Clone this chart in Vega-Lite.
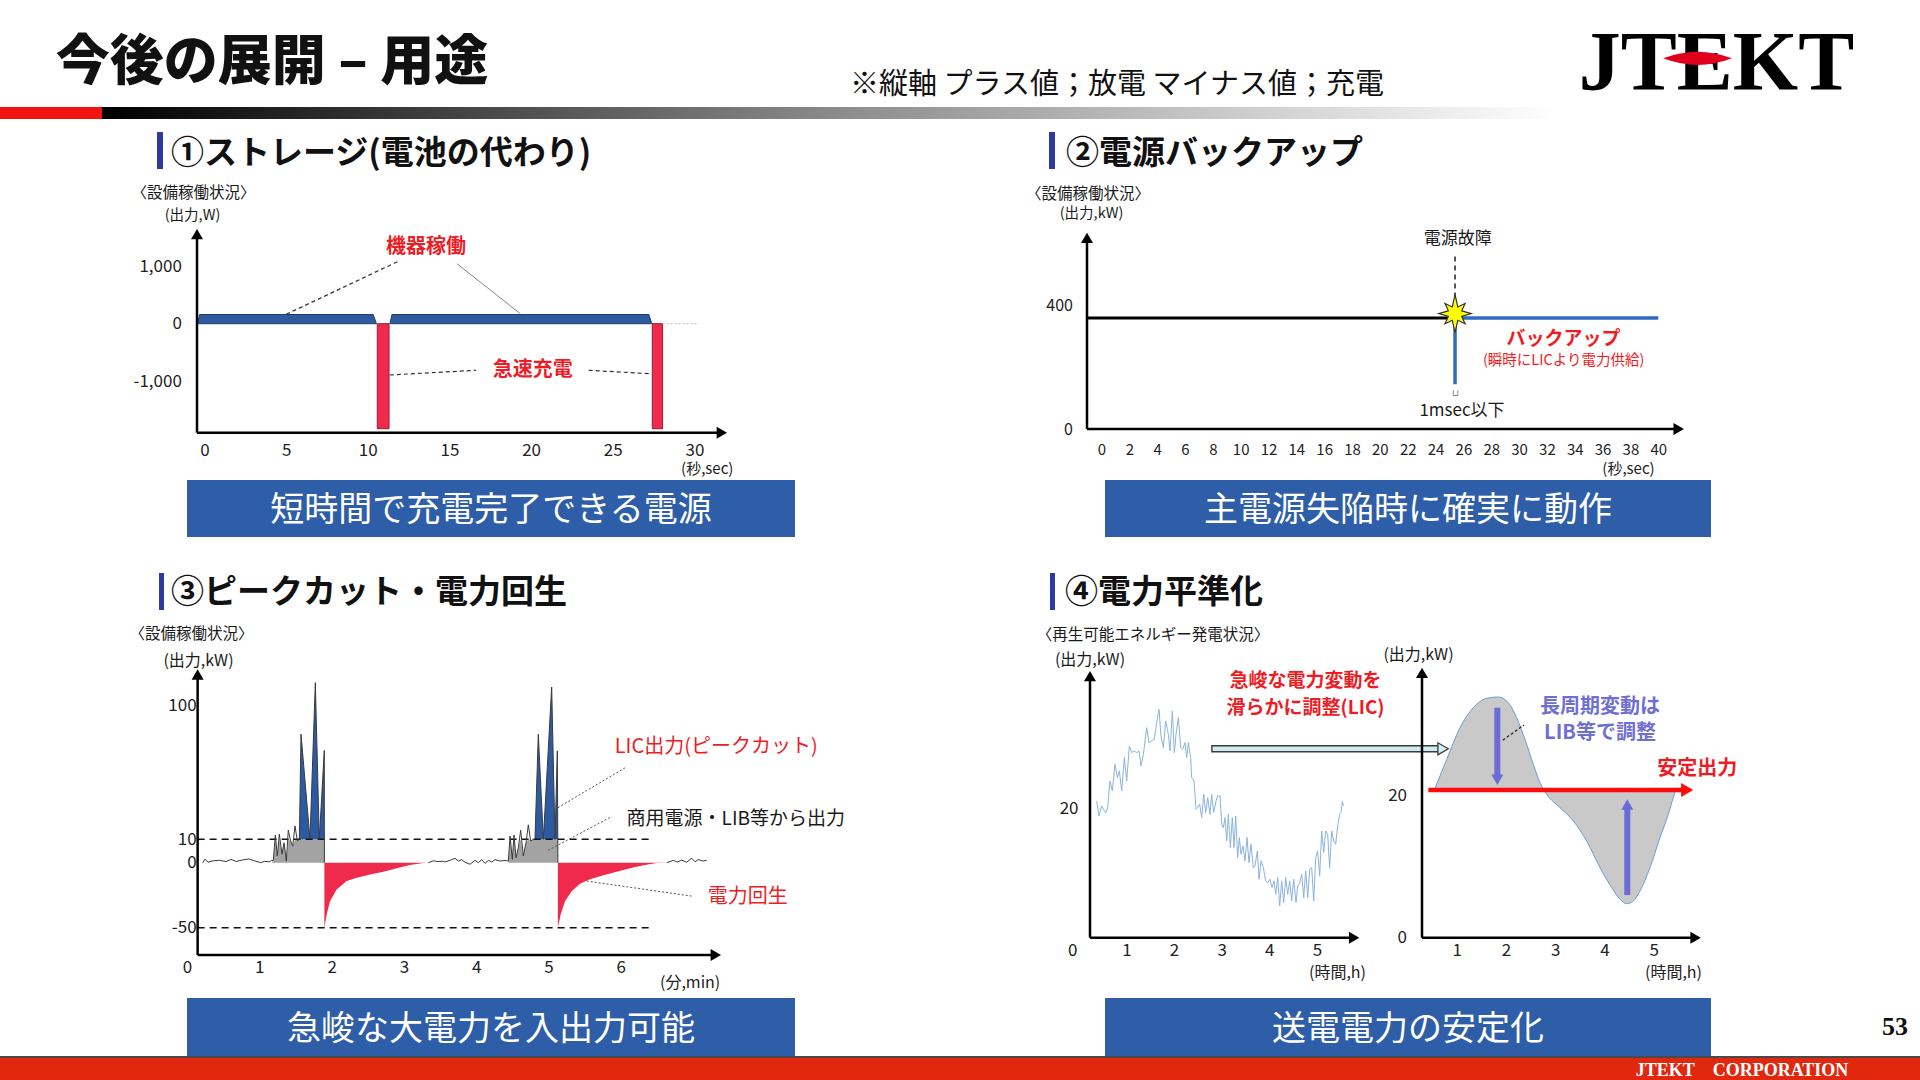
{
"$schema": "https://vega.github.io/schema/vega-lite/v6.json",
"padding": 0,
"background": "white",
"spacing": 0,
"config": {
  "font": "Noto Sans CJK JP",
  "view": {"stroke": null},
  "axis": {"grid": false, "domain": false, "ticks": false, "labelColor": "#222", "labelFont": "Noto Sans CJK JP", "titleFont": "Noto Sans CJK JP", "titleColor": "#222", "titleFontWeight": "normal", "labelFlush": false, "labelOverlap": false},
  "text": {"color": "#1a1a1a", "fontSize": 1}
},
"datasets": {
  "c1band": [{"seg":"a","x":-0.42,"y":0},{"seg":"a","x":-0.3,"y":160},{"seg":"a","x":10.33,"y":160},{"seg":"a","x":10.53,"y":0},{"seg":"b","x":11.35,"y":0},{"seg":"b","x":11.48,"y":160},{"seg":"b","x":27.21,"y":160},{"seg":"b","x":27.39,"y":0}],
  "c1bars": [{"x":10.58,"x2":11.30,"y":-1826},{"x":27.42,"x2":28.05,"y":-1826}],
  "c1dotted": [{"x":28.05,"y":0,"x2":30.27,"y2":0}],
  "c1dashed": [{"x":11.81,"y":1078,"x2":5.0,"y2":163},{"x":11.35,"y":-892,"x2":16.62,"y2":-810},{"x":23.53,"y":-810,"x2":27.29,"y2":-870}],
  "c1thin": [{"x":15.46,"y":1043,"x2":19.34,"y2":174}],
  "c1axes": [{"x":-0.46,"y":-1896,"x2":31.68,"y2":-1896},{"x":-0.46,"y":-1896,"x2":-0.46,"y2":1557}],
  "c1arrowR": [{"x":31.68,"y":-1896}],
  "c1arrowU": [{"x":-0.46,"y":1557}],
  "c1labels": [{"x":13.56,"y":1330,"label":"機器稼働"},{"x":20.1,"y":-800,"label":"急速充電"}],
  "c2black": [{"x":-1.04,"y":360,"x2":25.0,"y2":360}],
  "c2blue": [{"x":25.4,"y":145,"x2":25.4,"y2":360},{"x":25.4,"y":360,"x2":40.0,"y2":360}],
  "c2dash": [{"x":25.4,"y":426,"x2":25.4,"y2":571}],
  "c2star": [{"x":25.4,"y":374}],
  "c2axes": [{"x":-1.04,"y":0,"x2":41.47,"y2":0},{"x":-1.04,"y":0,"x2":-1.04,"y2":619.5}],
  "c2arrowR": [{"x":41.47,"y":0}],
  "c2arrowU": [{"x":-1.04,"y":619.5}],
  "c2textBlack": [{"x":25.6,"y":617,"label":"電源故障"},{"x":25.9,"y":58,"label":"1msec以下"}],
  "c2textRed": [{"x":33.2,"y":291,"label":"バックアップ"}],
  "c2textRedSmall": [{"x":33.2,"y":220,"label":"(瞬時にLICより電力供給)"}],
  "c2mark": [{"x":25.4,"y":118,"label":"⊔"}],
  "c3line": [
    {"seg":"a","x":0.217,"y":0},{"seg":"a","x":0.25,"y":1.5},{"seg":"a","x":0.29,"y":0.2},{"seg":"a","x":0.36,"y":0.8},{"seg":"a","x":0.45,"y":1.0},{"seg":"a","x":0.54,"y":0.5},{"seg":"a","x":0.61,"y":1.4},{"seg":"a","x":0.68,"y":0.5},{"seg":"a","x":0.77,"y":1.2},{"seg":"a","x":0.86,"y":1.6},{"seg":"a","x":0.93,"y":0.8},{"seg":"a","x":1.02,"y":0},{"seg":"a","x":1.07,"y":0.6},{"seg":"a","x":1.14,"y":0.4},{"seg":"a","x":1.171,"y":1.0},{"seg":"a","x":1.194,"y":1.0},{"seg":"a","x":1.222,"y":12.9},{"seg":"a","x":1.249,"y":2.9},{"seg":"a","x":1.277,"y":13.4},{"seg":"a","x":1.314,"y":3.6},{"seg":"a","x":1.342,"y":8.5},{"seg":"a","x":1.374,"y":0.7},{"seg":"a","x":1.401,"y":16.1},{"seg":"a","x":1.434,"y":9.3},{"seg":"a","x":1.462,"y":7.1},{"seg":"a","x":1.494,"y":19.0},{"seg":"a","x":1.526,"y":9.3},{"seg":"a","x":1.554,"y":10},{"seg":"a","x":1.577,"y":80.4},{"seg":"a","x":1.701,"y":10},{"seg":"a","x":1.775,"y":115},{"seg":"a","x":1.83,"y":10},{"seg":"a","x":1.899,"y":69.6},{"seg":"a","x":1.9,"y":0},
    {"seg":"b","x":3.338,"y":0},{"seg":"b","x":3.407,"y":0.8},{"seg":"b","x":3.47,"y":0.5},{"seg":"b","x":3.545,"y":0.6},{"seg":"b","x":3.568,"y":0.3},{"seg":"b","x":3.637,"y":1.0},{"seg":"b","x":3.707,"y":1.9},{"seg":"b","x":3.753,"y":0.7},{"seg":"b","x":3.799,"y":1.3},{"seg":"b","x":3.845,"y":0.2},{"seg":"b","x":3.914,"y":-1.2},{"seg":"b","x":3.983,"y":1.0},{"seg":"b","x":4.03,"y":0},{"seg":"b","x":4.076,"y":1.3},{"seg":"b","x":4.122,"y":-0.5},{"seg":"b","x":4.168,"y":1.0},{"seg":"b","x":4.214,"y":0.3},{"seg":"b","x":4.26,"y":1.3},{"seg":"b","x":4.329,"y":0.7},{"seg":"b","x":4.399,"y":1.0},{"seg":"b","x":4.445,"y":0.7},{"seg":"b","x":4.468,"y":12.2},{"seg":"b","x":4.5,"y":1.4},{"seg":"b","x":4.523,"y":12.9},{"seg":"b","x":4.551,"y":2.1},{"seg":"b","x":4.583,"y":6.4},{"seg":"b","x":4.615,"y":16.1},{"seg":"b","x":4.652,"y":2.9},{"seg":"b","x":4.689,"y":8.5},{"seg":"b","x":4.721,"y":19.7},{"seg":"b","x":4.753,"y":9.3},{"seg":"b","x":4.79,"y":10},{"seg":"b","x":4.813,"y":10},{"seg":"b","x":4.859,"y":80.4},{"seg":"b","x":4.929,"y":10},{"seg":"b","x":5.044,"y":112},{"seg":"b","x":5.09,"y":10},{"seg":"b","x":5.122,"y":69.2},{"seg":"b","x":5.13,"y":0},
    {"seg":"c","x":6.635,"y":0},{"seg":"c","x":6.727,"y":1.0},{"seg":"c","x":6.782,"y":0.3},{"seg":"c","x":6.842,"y":1.1},{"seg":"c","x":6.911,"y":0.2},{"seg":"c","x":6.981,"y":1.9},{"seg":"c","x":7.027,"y":0.4},{"seg":"c","x":7.073,"y":1.3},{"seg":"c","x":7.142,"y":0.7},{"seg":"c","x":7.188,"y":1.0}
  ],
  "c3gray": [
    {"seg":"g1","x":1.171,"y":0},{"seg":"g1","x":1.194,"y":1.0},{"seg":"g1","x":1.222,"y":10},{"seg":"g1","x":1.249,"y":2.9},{"seg":"g1","x":1.277,"y":10},{"seg":"g1","x":1.314,"y":3.6},{"seg":"g1","x":1.342,"y":8.5},{"seg":"g1","x":1.374,"y":0.7},{"seg":"g1","x":1.401,"y":10},{"seg":"g1","x":1.434,"y":9.3},{"seg":"g1","x":1.462,"y":7.1},{"seg":"g1","x":1.494,"y":10},{"seg":"g1","x":1.526,"y":9.3},{"seg":"g1","x":1.554,"y":10},{"seg":"g1","x":1.9,"y":10},
    {"seg":"g2","x":4.445,"y":0.7},{"seg":"g2","x":4.468,"y":10},{"seg":"g2","x":4.5,"y":1.4},{"seg":"g2","x":4.523,"y":10},{"seg":"g2","x":4.551,"y":2.1},{"seg":"g2","x":4.583,"y":6.4},{"seg":"g2","x":4.615,"y":10},{"seg":"g2","x":4.652,"y":2.9},{"seg":"g2","x":4.689,"y":8.5},{"seg":"g2","x":4.721,"y":10},{"seg":"g2","x":4.753,"y":9.3},{"seg":"g2","x":4.79,"y":10},{"seg":"g2","x":5.13,"y":10}
  ],
  "c3blue": [
    {"seg":"b1","x":1.554,"y":10},{"seg":"b1","x":1.577,"y":80.4},{"seg":"b1","x":1.701,"y":10},{"seg":"b1","x":1.775,"y":115},{"seg":"b1","x":1.83,"y":10},{"seg":"b1","x":1.899,"y":69.6},{"seg":"b1","x":1.9,"y":10},
    {"seg":"b2","x":4.813,"y":10},{"seg":"b2","x":4.859,"y":80.4},{"seg":"b2","x":4.929,"y":10},{"seg":"b2","x":5.044,"y":112},{"seg":"b2","x":5.09,"y":10},{"seg":"b2","x":5.122,"y":69.2},{"seg":"b2","x":5.13,"y":10}
  ],
  "c3red": [
    {"seg":"r1","x":1.9,"y":-50},{"seg":"r1","x":1.932,"y":-39.9},{"seg":"r1","x":1.978,"y":-29.6},{"seg":"r1","x":2.07,"y":-20.6},{"seg":"r1","x":2.209,"y":-14.1},{"seg":"r1","x":2.347,"y":-11.6},{"seg":"r1","x":2.531,"y":-9.0},{"seg":"r1","x":2.716,"y":-6.9},{"seg":"r1","x":2.9,"y":-4.3},{"seg":"r1","x":3.084,"y":-1.8},{"seg":"r1","x":3.268,"y":-0.2},{"seg":"r1","x":3.338,"y":0},
    {"seg":"r2","x":5.13,"y":-50},{"seg":"r2","x":5.168,"y":-39.9},{"seg":"r2","x":5.228,"y":-29.6},{"seg":"r2","x":5.32,"y":-21.9},{"seg":"r2","x":5.436,"y":-16.2},{"seg":"r2","x":5.574,"y":-12.8},{"seg":"r2","x":5.759,"y":-9.7},{"seg":"r2","x":5.943,"y":-6.9},{"seg":"r2","x":6.128,"y":-4.3},{"seg":"r2","x":6.312,"y":-2.0},{"seg":"r2","x":6.497,"y":-0.2},{"seg":"r2","x":6.635,"y":0}
  ],
  "c3dash": [{"x":0.147,"y":10,"x2":6.45,"y2":10},{"x":0.147,"y":-50,"x2":6.45,"y2":-50}],
  "c3axes": [{"x":0.147,"y":-71.1,"x2":7.314,"y2":-71.1},{"x":0.147,"y":-71.1,"x2":0.147,"y2":120.4}],
  "c3arrowR": [{"x":7.314,"y":-71.1}],
  "c3arrowU": [{"x":0.147,"y":120.4}],
  "c3dotted": [{"x":6.058,"y":57.9,"x2":5.02,"y2":28},{"x":5.85,"y":24.6,"x2":4.975,"y2":5.0},{"x":6.98,"y":-25.7,"x2":5.53,"y2":-14.1}],
  "c3textRed": [{"x":7.32,"y":71.9,"label":"LIC出力(ピークカット)"},{"x":7.755,"y":-26.5,"label":"電力回生"}],
  "c3textBlack": [{"x":7.59,"y":23.5,"label":"商用電源・LIB等から出力"}],
  "c3unit": [{"x":0.159,"y":129.5,"label":"(出力,kW)"}],
  "c4aline": [
    {"x":0.377,"y":21.13},{"x":0.426,"y":18.81},{"x":0.482,"y":20.36},{"x":0.517,"y":19.85},{"x":0.566,"y":19.33},{"x":0.608,"y":20.10},{"x":0.657,"y":24.22},{"x":0.706,"y":22.68},{"x":0.762,"y":26.80},{"x":0.811,"y":24.74},{"x":0.853,"y":25.77},{"x":0.902,"y":22.68},{"x":0.958,"y":27.83},{"x":1.007,"y":24.22},{"x":1.063,"y":29.63},{"x":1.112,"y":28.60},{"x":1.161,"y":28.86},{"x":1.217,"y":28.60},{"x":1.266,"y":28.86},{"x":1.308,"y":26.54},{"x":1.357,"y":28.35},{"x":1.427,"y":32.47},{"x":1.476,"y":30.15},{"x":1.531,"y":30.41},{"x":1.587,"y":30.66},{"x":1.636,"y":33.24},{"x":1.685,"y":35.30},{"x":1.727,"y":31.18},{"x":1.776,"y":29.38},{"x":1.825,"y":33.50},{"x":1.881,"y":31.44},{"x":1.916,"y":28.86},{"x":1.965,"y":35.04},{"x":2.007,"y":28.60},{"x":2.042,"y":31.44},{"x":2.091,"y":34.01},{"x":2.140,"y":29.38},{"x":2.182,"y":29.12},{"x":2.231,"y":30.15},{"x":2.266,"y":27.83},{"x":2.301,"y":30.15},{"x":2.350,"y":27.83},{"x":2.371,"y":24.74},{"x":2.420,"y":24.22},{"x":2.462,"y":19.85},{"x":2.497,"y":20.10},{"x":2.539,"y":20.62},{"x":2.581,"y":18.56},{"x":2.623,"y":22.16},{"x":2.665,"y":19.33},{"x":2.707,"y":21.65},{"x":2.756,"y":19.07},{"x":2.791,"y":22.16},{"x":2.833,"y":19.33},{"x":2.882,"y":21.13},{"x":2.917,"y":21.91},{"x":2.966,"y":21.91},{"x":3.001,"y":17.53},{"x":3.036,"y":17.01},{"x":3.071,"y":18.56},{"x":3.106,"y":14.95},{"x":3.141,"y":19.07},{"x":3.183,"y":13.92},{"x":3.224,"y":18.56},{"x":3.259,"y":13.92},{"x":3.294,"y":18.81},{"x":3.336,"y":12.37},{"x":3.371,"y":15.47},{"x":3.406,"y":12.89},{"x":3.448,"y":14.18},{"x":3.490,"y":11.86},{"x":3.532,"y":15.47},{"x":3.574,"y":11.60},{"x":3.616,"y":14.44},{"x":3.665,"y":10.83},{"x":3.700,"y":11.09},{"x":3.749,"y":13.41},{"x":3.784,"y":9.03},{"x":3.826,"y":11.86},{"x":3.875,"y":10.83},{"x":3.924,"y":8.77},{"x":3.966,"y":8.51},{"x":4.015,"y":9.03},{"x":4.057,"y":7.74},{"x":4.099,"y":8.77},{"x":4.134,"y":6.71},{"x":4.176,"y":9.28},{"x":4.218,"y":4.90},{"x":4.260,"y":8.77},{"x":4.302,"y":5.42},{"x":4.344,"y":9.28},{"x":4.386,"y":6.71},{"x":4.428,"y":8.77},{"x":4.470,"y":5.68},{"x":4.512,"y":9.03},{"x":4.561,"y":5.42},{"x":4.596,"y":7.99},{"x":4.638,"y":8.51},{"x":4.680,"y":9.80},{"x":4.722,"y":6.19},{"x":4.764,"y":10.31},{"x":4.806,"y":6.19},{"x":4.848,"y":10.57},{"x":4.890,"y":10.83},{"x":4.932,"y":5.68},{"x":4.974,"y":12.37},{"x":5.015,"y":13.41},{"x":5.057,"y":9.54},{"x":5.099,"y":16.50},{"x":5.141,"y":13.15},{"x":5.183,"y":16.50},{"x":5.225,"y":15.98},{"x":5.267,"y":10.83},{"x":5.309,"y":16.50},{"x":5.351,"y":14.95},{"x":5.393,"y":14.44},{"x":5.435,"y":17.27},{"x":5.477,"y":19.07},{"x":5.505,"y":19.33},{"x":5.533,"y":21.13},{"x":5.554,"y":20.36}
  ],
  "c4abodyOut": [{"x":2.78,"y":29.2,"x2":7.58,"y2":29.2}],
  "c4abodyIn": [{"x":2.81,"y":29.2,"x2":7.6,"y2":29.2}],
  "c4ahead": [{"x":7.647,"y":29.2}],
  "c4aaxes": [{"x":0.2371,"y":0,"x2":5.78,"y2":0},{"x":0.2371,"y":0,"x2":0.2371,"y2":40.42}],
  "c4aarrowR": [{"x":5.78,"y":0}],
  "c4aarrowU": [{"x":0.2371,"y":40.42}],
  "c4atext": [{"x":4.76,"y":39.68,"label":"急峻な電力変動を"},{"x":4.76,"y":35.55,"label":"滑らかに調整(LIC)"}],
  "c4aunit": [{"x":0.237,"y":42.92,"label":"(出力,kW)"}],
  "c4azero": [{"x":-0.126,"y":-2.06,"label":"0"}],
  "c4barea": [{"x":0.55,"y":20.7},{"x":0.582,"y":21.27},{"x":0.799,"y":25.01},{"x":1.069,"y":29.46},{"x":1.339,"y":32.26},{"x":1.61,"y":33.57},{"x":1.847,"y":33.76},{"x":2.049,"y":32.96},{"x":2.218,"y":30.86},{"x":2.387,"y":27.82},{"x":2.556,"y":24.31},{"x":2.692,"y":21.74},{"x":2.827,"y":20.1},{"x":3.097,"y":18.24},{"x":3.368,"y":16.37},{"x":3.638,"y":13.56},{"x":3.909,"y":9.82},{"x":4.146,"y":7.02},{"x":4.314,"y":5.38},{"x":4.45,"y":4.77},{"x":4.585,"y":5.14},{"x":4.72,"y":6.55},{"x":4.923,"y":9.82},{"x":5.126,"y":14.03},{"x":5.295,"y":17.3},{"x":5.396,"y":19.64},{"x":5.477,"y":21.04},{"x":5.5,"y":20.7}],
  "c4bred": [{"x":0.427,"y":20.7,"x2":5.68,"y2":20.7}],
  "c4bredhead": [{"x":5.677,"y":20.7}],
  "c4bpurple": [{"x":1.826,"y":32.26,"x2":1.826,"y2":22.3},{"x":4.462,"y":5.99,"x2":4.462,"y2":18.6}],
  "c4bheaddown": [{"x":1.826,"y":22.15}],
  "c4bheadup": [{"x":4.462,"y":18.68}],
  "c4bdash": [{"x":1.935,"y":27.69,"x2":2.367,"y2":29.83}],
  "c4btextp": [{"x":3.909,"y":32.36,"label":"長周期変動は"},{"x":3.909,"y":28.75,"label":"LIB等で調整"}],
  "c4btextr": [{"x":5.88,"y":23.69,"label":"安定出力"}],
  "c4baxes": [{"x":0.2982,"y":0,"x2":5.848,"y2":0},{"x":0.2982,"y":0,"x2":0.2982,"y2":37.14}],
  "c4barrowR": [{"x":5.848,"y":0}],
  "c4barrowU": [{"x":0.2982,"y":37.14}],
  "c4bunit": [{"x":0.227,"y":39.65,"label":"(出力,kW)"}]
},
"vconcat": [
  {"hconcat": [
    {"width": 544, "height": 107, "data": {"values": [{"t": "今後の展開 – 用途"}]}, "mark": {"type": "text", "fontSize": 54, "fontWeight": 900, "color": "#111111", "dy": 10.8}, "encoding": {"text": {"field": "t", "type": "nominal"}}},
    {"width": 1146, "height": 107, "data": {"values": [{"t": "※縦軸 プラス値；放電 マイナス値；充電"}]}, "mark": {"type": "text", "fontSize": 29, "color": "#111111", "dy": 31.3}, "encoding": {"text": {"field": "t", "type": "nominal"}}},
    {"width": 53, "height": 107, "data": {"values": [{"t": "JTEKT"}]}, "layer": [
      {"mark": {"type": "text", "font": "Liberation Serif", "fontWeight": "bold", "fontSize": 84, "baseline": "alphabetic", "dy": 36.5, "color": "#000000"}, "encoding": {"text": {"field": "t", "type": "nominal"}}},
      {"mark": {"type": "point", "shape": "M-1.55,0.14Q-0.55,-0.24,0.45,0.14Q-0.55,0.52,-1.55,0.14Z", "size": 4761, "filled": true, "color": "#e0001b", "opacity": 1}}
    ]}
  ], "spacing": 0, "bounds": "flush"},
  {"hconcat": [
    {"width": 102, "height": 12, "view": {"fill": "#f2140f", "stroke": null}, "data": {"values": [{}]}, "mark": {"type": "text", "text": ""}},
    {"width": 1818, "height": 12, "view": {"fill": {"gradient": "linear", "x1": 0, "y1": 0, "x2": 1, "y2": 0, "stops": [{"offset": 0, "color": "#000000"}, {"offset": 0.4, "color": "#8a8a8a"}, {"offset": 0.8, "color": "#ffffff"}, {"offset": 1, "color": "#ffffff"}]}, "stroke": null}, "data": {"values": [{}]}, "mark": {"type": "text", "text": ""}}
  ], "spacing": 0, "bounds": "flush"},
  {"width": 1920, "height": 13, "data": {"values": [{}]}, "mark": {"type": "text", "text": ""}},
  {"hconcat": [
    {"width": 157, "height": 46, "data": {"values": [{}]}, "mark": {"type": "text", "text": ""}},
    {"width": 6, "height": 37, "view": {"fill": "#2e3a9f", "stroke": null}, "data": {"values": [{}]}, "mark": {"type": "text", "text": ""}},
    {"width": 16, "height": 46, "data": {"values": [{"t": "①ストレージ(電池の代わり)"}]}, "mark": {"type": "text", "align": "left", "fontSize": 33, "fontWeight": "bold", "color": "#111111", "dy": -1.1}, "encoding": {"text": {"field": "t", "type": "nominal"}}},
    {"width": 870, "height": 46, "data": {"values": [{}]}, "mark": {"type": "text", "text": ""}},
    {"width": 6, "height": 37, "view": {"fill": "#2e3a9f", "stroke": null}, "data": {"values": [{}]}, "mark": {"type": "text", "text": ""}},
    {"width": 22, "height": 46, "data": {"values": [{"t": "②電源バックアップ"}]}, "mark": {"type": "text", "align": "left", "fontSize": 33, "fontWeight": "bold", "color": "#111111", "dy": -1.1}, "encoding": {"text": {"field": "t", "type": "nominal"}}}
  ], "spacing": 0, "bounds": "flush"},
  {"hconcat": [
    {"width": 387, "height": 50, "layer": [
      {"data": {"values": [{"t": "〈設備稼働状況〉"}]}, "mark": {"type": "text", "fontSize": 15.5, "dy": -9.8}, "encoding": {"text": {"field": "t", "type": "nominal"}}},
      {"data": {"values": [{"t": "(出力,W)"}]}, "mark": {"type": "text", "fontSize": 14.5, "dy": 12.7, "dx": -1}, "encoding": {"text": {"field": "t", "type": "nominal"}}}
    ]},
    {"width": 613, "height": 50, "data": {"values": [{}]}, "mark": {"type": "text", "text": ""}},
    {"width": 179, "height": 50, "layer": [
      {"data": {"values": [{"t": "〈設備稼働状況〉"}]}, "mark": {"type": "text", "fontSize": 15.5, "dy": -8.8, "dx": -1.5}, "encoding": {"text": {"field": "t", "type": "nominal"}}},
      {"data": {"values": [{"t": "(出力,kW)"}]}, "mark": {"type": "text", "fontSize": 14.5, "dy": 11.2, "dx": 2}, "encoding": {"text": {"field": "t", "type": "nominal"}}}
    ]}
  ], "spacing": 0, "bounds": "flush"},
  {"hconcat": [
    {"width": 197, "height": 251, "data": {"values": [{}]}, "mark": {"type": "text", "text": ""}},
    {
      "width": 530, "height": 251,
      "encoding": {
        "x": {"field": "x", "type": "quantitative", "scale": {"domain": [-0.46, 31.996], "nice": false, "zero": false}, "axis": {"values": [0,5,10,15,20,25,30], "offset": -47.3, "labelFontSize": 17, "labelPadding": 9.8, "title": "(秒,sec)", "titleFontSize": 15, "titleX": 509.7, "titleY": 36.1, "titleAlign": "center", "titleBaseline": "middle"}},
        "y": {"field": "y", "type": "quantitative", "scale": {"domain": [-2718, 1647], "nice": false, "zero": false}, "axis": {"values": [1000, 0, -1000], "labelFontSize": 17, "labelPadding": 15.6, "title": null, "labelExpr": "datum.value < 0 ? '-1,000' : format(datum.value, ',')"}}
      },
      "layer": [
        {"data": {"name": "c1band"}, "mark": {"type": "area", "color": "#2f5b9e", "stroke": "#1d3c72", "strokeWidth": 1}, "encoding": {"y2": {"datum": 0}, "detail": {"field": "seg"}}},
        {"data": {"name": "c1bars"}, "mark": {"type": "rect", "color": "#ef2a4c", "stroke": "#9a1a30", "strokeWidth": 1}, "encoding": {"x2": {"field": "x2"}, "y2": {"datum": 0}}},
        {"data": {"name": "c1dotted"}, "mark": {"type": "rule", "color": "#bdbdbd", "strokeDash": [2, 2], "strokeWidth": 1}, "encoding": {"x2": {"field": "x2"}, "y2": {"field": "y2"}}},
        {"data": {"name": "c1dashed"}, "mark": {"type": "rule", "color": "#333333", "strokeDash": [4, 3], "strokeWidth": 1.2}, "encoding": {"x2": {"field": "x2"}, "y2": {"field": "y2"}}},
        {"data": {"name": "c1thin"}, "mark": {"type": "rule", "color": "#888888", "strokeWidth": 1}, "encoding": {"x2": {"field": "x2"}, "y2": {"field": "y2"}}},
        {"data": {"name": "c1axes"}, "mark": {"type": "rule", "color": "#000000", "strokeWidth": 2.5}, "encoding": {"x2": {"field": "x2"}, "y2": {"field": "y2"}}},
        {"data": {"name": "c1arrowR"}, "mark": {"type": "point", "shape": "triangle-right", "filled": true, "color": "#000000", "size": 144, "opacity": 1}},
        {"data": {"name": "c1arrowU"}, "mark": {"type": "point", "shape": "triangle-up", "filled": true, "color": "#000000", "size": 144, "opacity": 1}},
        {"data": {"name": "c1labels"}, "mark": {"type": "text", "color": "#ee1c25", "fontSize": 20, "fontWeight": "bold"}, "encoding": {"text": {"field": "label", "type": "nominal"}}}
      ]
    },
    {"width": 360, "height": 251, "data": {"values": [{}]}, "mark": {"type": "text", "text": ""}},
    {
      "width": 597, "height": 251,
      "encoding": {
        "x": {"field": "x", "type": "quantitative", "scale": {"domain": [-1.04, 41.849], "nice": false, "zero": false}, "axis": {"values": [0,2,4,6,8,10,12,14,16,18,20,22,24,26,28,30,32,34,36,38,40], "offset": -51, "labelFontSize": 15, "labelPadding": 13.8, "title": "(秒,sec)", "titleFontSize": 15, "titleX": 541, "titleY": 39.8, "titleAlign": "center", "titleBaseline": "middle"}},
        "y": {"field": "y", "type": "quantitative", "scale": {"domain": [-165.3, 648.3], "nice": false, "zero": false}, "axis": {"values": [400, 0], "labelFontSize": 16, "labelPadding": 14.5, "title": null}}
      },
      "layer": [
        {"data": {"name": "c2black"}, "mark": {"type": "rule", "color": "#000000", "strokeWidth": 3}, "encoding": {"x2": {"field": "x2"}, "y2": {"field": "y2"}}},
        {"data": {"name": "c2dash"}, "mark": {"type": "rule", "color": "#222222", "strokeWidth": 1.5, "strokeDash": [5, 4]}, "encoding": {"x2": {"field": "x2"}, "y2": {"field": "y2"}}},
        {"data": {"name": "c2blue"}, "mark": {"type": "rule", "color": "#2f6bbf", "strokeWidth": 3.5}, "encoding": {"x2": {"field": "x2"}, "y2": {"field": "y2"}}},
        {"data": {"name": "c2axes"}, "mark": {"type": "rule", "color": "#000000", "strokeWidth": 2.5}, "encoding": {"x2": {"field": "x2"}, "y2": {"field": "y2"}}},
        {"data": {"name": "c2arrowR"}, "mark": {"type": "point", "shape": "triangle-right", "filled": true, "color": "#000000", "size": 144, "opacity": 1}},
        {"data": {"name": "c2arrowU"}, "mark": {"type": "point", "shape": "triangle-up", "filled": true, "color": "#000000", "size": 144, "opacity": 1}},
        {"data": {"name": "c2star"}, "mark": {"type": "point", "shape": "M0,-1L0.145,-0.351L0.53,-0.53L0.351,-0.145L0.85,0L0.351,0.145L0.53,0.53L0.145,0.351L0,1L-0.145,0.351L-0.53,0.53L-0.351,0.145L-0.85,0L-0.351,-0.145L-0.53,-0.53L-0.145,-0.351Z", "size": 1444, "filled": true, "fill": "#ffff00", "stroke": "#333333", "strokeWidth": 1.2, "opacity": 1}},
        {"data": {"name": "c2textBlack"}, "mark": {"type": "text", "fontSize": 17, "color": "#1a1a1a"}, "encoding": {"text": {"field": "label", "type": "nominal"}}},
        {"data": {"name": "c2textRed"}, "mark": {"type": "text", "fontSize": 19, "fontWeight": "bold", "color": "#ee1c25"}, "encoding": {"text": {"field": "label", "type": "nominal"}}},
        {"data": {"name": "c2textRedSmall"}, "mark": {"type": "text", "fontSize": 14.5, "color": "#ee1c25"}, "encoding": {"text": {"field": "label", "type": "nominal"}}},
        {"data": {"name": "c2mark"}, "mark": {"type": "text", "fontSize": 9, "color": "#777777"}, "encoding": {"text": {"field": "label", "type": "nominal"}}}
      ]
    }
  ], "spacing": 0, "bounds": "flush"},
  {"hconcat": [
    {"width": 187, "height": 57, "data": {"values": [{}]}, "mark": {"type": "text", "text": ""}},
    {"width": 608, "height": 57, "view": {"fill": "#2f5ea8", "stroke": null}, "data": {"values": [{"t": "短時間で充電完了できる電源"}]}, "mark": {"type": "text", "color": "#ffffff", "fontSize": 34, "dy": 2.7}, "encoding": {"text": {"field": "t", "type": "nominal"}}},
    {"width": 310, "height": 57, "data": {"values": [{}]}, "mark": {"type": "text", "text": ""}},
    {"width": 606, "height": 57, "view": {"fill": "#2f5ea8", "stroke": null}, "data": {"values": [{"t": "主電源失陥時に確実に動作"}]}, "mark": {"type": "text", "color": "#ffffff", "fontSize": 34, "dy": 2.7}, "encoding": {"text": {"field": "t", "type": "nominal"}}}
  ], "spacing": 0, "bounds": "flush"},
  {"width": 1920, "height": 36, "data": {"values": [{}]}, "mark": {"type": "text", "text": ""}},
  {"hconcat": [
    {"width": 159, "height": 39, "data": {"values": [{}]}, "mark": {"type": "text", "text": ""}},
    {"width": 5, "height": 37, "view": {"fill": "#2e3a9f", "stroke": null}, "data": {"values": [{}]}, "mark": {"type": "text", "text": ""}},
    {"width": 14, "height": 39, "data": {"values": [{"t": "③ピークカット・電力回生"}]}, "mark": {"type": "text", "align": "left", "fontSize": 33, "fontWeight": "bold", "color": "#111111", "dy": 0.9}, "encoding": {"text": {"field": "t", "type": "nominal"}}},
    {"width": 872, "height": 39, "data": {"values": [{}]}, "mark": {"type": "text", "text": ""}},
    {"width": 5, "height": 37, "view": {"fill": "#2e3a9f", "stroke": null}, "data": {"values": [{}]}, "mark": {"type": "text", "text": ""}},
    {"width": 20, "height": 39, "data": {"values": [{"t": "④電力平準化"}]}, "mark": {"type": "text", "align": "left", "fontSize": 33, "fontWeight": "bold", "color": "#111111", "dy": 0.9}, "encoding": {"text": {"field": "t", "type": "nominal"}}}
  ], "spacing": 0, "bounds": "flush"},
  {"hconcat": [
    {"width": 383, "height": 34, "data": {"values": [{"t": "〈設備稼働状況〉"}]}, "mark": {"type": "text", "fontSize": 15.5, "dy": 4.9}, "encoding": {"text": {"field": "t", "type": "nominal"}}},
    {"width": 617, "height": 34, "data": {"values": [{}]}, "mark": {"type": "text", "text": ""}},
    {"width": 306, "height": 34, "data": {"values": [{"t": "〈再生可能エネルギー発電状況〉"}]}, "mark": {"type": "text", "fontSize": 15.5, "dy": 6.2}, "encoding": {"text": {"field": "t", "type": "nominal"}}}
  ], "spacing": 0, "bounds": "flush"},
  {"hconcat": [
    {"width": 187, "height": 352, "data": {"values": [{}]}, "mark": {"type": "text", "text": ""}},
    {
      "width": 534, "height": 352,
      "encoding": {
        "x": {"field": "x", "type": "quantitative", "scale": {"domain": [0, 7.386], "nice": false, "zero": false}, "axis": {"values": [0,1,2,3,4,5,6], "offset": -43, "labelFontSize": 17, "labelPadding": 4, "title": "(分,min)", "titleFontSize": 16, "titleX": 502.6, "titleY": 27.7, "titleAlign": "center", "titleBaseline": "middle"}},
        "y": {"field": "y", "type": "quantitative", "scale": {"domain": [-104.3, -50, 0, 10, 100, 139.5], "range": [352, 281.7, 216.7, 193.3, 59, 0], "nice": false, "zero": false}, "axis": {"values": [100, 10, 0, -50], "offset": -10.6, "labelFontSize": 17, "labelPadding": 1.5, "title": null, "labelExpr": "datum.value < 0 ? '-50' : datum.label"}}
      },
      "layer": [
        {"data": {"name": "c3gray"}, "mark": {"type": "area", "color": "#a3a3a3", "opacity": 1}, "encoding": {"y2": {"datum": 0}, "detail": {"field": "seg"}}},
        {"data": {"name": "c3blue"}, "mark": {"type": "area", "color": "#2d5ba3", "opacity": 1}, "encoding": {"y2": {"datum": 10}, "detail": {"field": "seg"}}},
        {"data": {"name": "c3red"}, "mark": {"type": "area", "color": "#ef2a4c", "opacity": 1}, "encoding": {"y2": {"datum": 0}, "detail": {"field": "seg"}}},
        {"data": {"name": "c3dash"}, "mark": {"type": "rule", "color": "#111111", "strokeDash": [7, 5], "strokeWidth": 1.6}, "encoding": {"x2": {"field": "x2"}, "y2": {"field": "y2"}}},
        {"data": {"name": "c3line"}, "mark": {"type": "line", "color": "#3a3a3a", "strokeWidth": 1}, "encoding": {"detail": {"field": "seg"}}},
        {"data": {"name": "c3dotted"}, "mark": {"type": "rule", "color": "#555555", "strokeDash": [2, 2], "strokeWidth": 1}, "encoding": {"x2": {"field": "x2"}, "y2": {"field": "y2"}}},
        {"data": {"name": "c3axes"}, "mark": {"type": "rule", "color": "#000000", "strokeWidth": 2.5}, "encoding": {"x2": {"field": "x2"}, "y2": {"field": "y2"}}},
        {"data": {"name": "c3arrowR"}, "mark": {"type": "point", "shape": "triangle-right", "filled": true, "color": "#000000", "size": 144, "opacity": 1}},
        {"data": {"name": "c3arrowU"}, "mark": {"type": "point", "shape": "triangle-up", "filled": true, "color": "#000000", "size": 144, "opacity": 1}},
        {"data": {"name": "c3textRed"}, "mark": {"type": "text", "fontSize": 20, "color": "#ee1c25"}, "encoding": {"text": {"field": "label", "type": "nominal"}}},
        {"data": {"name": "c3textBlack"}, "mark": {"type": "text", "fontSize": 19, "color": "#1a1a1a"}, "encoding": {"text": {"field": "label", "type": "nominal"}}},
        {"data": {"name": "c3unit"}, "mark": {"type": "text", "fontSize": 16, "color": "#1a1a1a"}, "encoding": {"text": {"field": "label", "type": "nominal"}}}
      ]
    },
    {"width": 369, "height": 352, "data": {"values": [{}]}, "mark": {"type": "text", "text": ""}},
    {
      "width": 269, "height": 352,
      "encoding": {
        "x": {"field": "x", "type": "quantitative", "scale": {"domain": [0.2371, 5.8824], "nice": false, "zero": false}, "axis": {"values": [1,2,3,4,5], "offset": -60.3, "labelFontSize": 17, "labelPadding": 4.8, "title": "(時間,h)", "titleFontSize": 16, "titleX": 247, "titleY": 35, "titleAlign": "center", "titleBaseline": "middle"}},
        "y": {"field": "y", "type": "quantitative", "scale": {"domain": [-9.32, 45.08], "nice": false, "zero": false}, "axis": {"values": [20], "labelFontSize": 17, "labelPadding": 12, "title": null}}
      },
      "layer": [
        {"data": {"name": "c4aline"}, "mark": {"type": "line", "color": "#8ab4dc", "strokeWidth": 1}},
        {"data": {"name": "c4abodyOut"}, "mark": {"type": "rule", "color": "#3a3a3a", "strokeWidth": 7.5}, "encoding": {"x2": {"field": "x2"}, "y2": {"field": "y2"}}},
        {"data": {"name": "c4abodyIn"}, "mark": {"type": "rule", "color": "#cdeef0", "strokeWidth": 4.5}, "encoding": {"x2": {"field": "x2"}, "y2": {"field": "y2"}}},
        {"data": {"name": "c4ahead"}, "mark": {"type": "point", "shape": "triangle-right", "filled": true, "fill": "#cdeef0", "stroke": "#3a3a3a", "strokeWidth": 1.3, "size": 144, "opacity": 1}},
        {"data": {"name": "c4aaxes"}, "mark": {"type": "rule", "color": "#000000", "strokeWidth": 2.5}, "encoding": {"x2": {"field": "x2"}, "y2": {"field": "y2"}}},
        {"data": {"name": "c4aarrowR"}, "mark": {"type": "point", "shape": "triangle-right", "filled": true, "color": "#000000", "size": 144, "opacity": 1}},
        {"data": {"name": "c4aarrowU"}, "mark": {"type": "point", "shape": "triangle-up", "filled": true, "color": "#000000", "size": 144, "opacity": 1}},
        {"data": {"name": "c4atext"}, "mark": {"type": "text", "fontSize": 19, "fontWeight": "bold", "color": "#ee1c25"}, "encoding": {"text": {"field": "label", "type": "nominal"}}},
        {"data": {"name": "c4aunit"}, "mark": {"type": "text", "fontSize": 16, "color": "#1a1a1a"}, "encoding": {"text": {"field": "label", "type": "nominal"}}},
        {"data": {"name": "c4azero"}, "mark": {"type": "text", "fontSize": 17, "color": "#222222"}, "encoding": {"text": {"field": "label", "type": "nominal"}}}
      ]
    },
    {"width": 63, "height": 352, "data": {"values": [{}]}, "mark": {"type": "text", "text": ""}},
    {
      "width": 279, "height": 352,
      "encoding": {
        "x": {"field": "x", "type": "quantitative", "scale": {"domain": [0.2982, 5.9575], "nice": false, "zero": false}, "axis": {"values": [1,2,3,4,5], "offset": -60.3, "labelFontSize": 17, "labelPadding": 4.8, "title": "(時間,h)", "titleFontSize": 16, "titleX": 251, "titleY": 34.3, "titleAlign": "center", "titleBaseline": "middle"}},
        "y": {"field": "y", "type": "quantitative", "scale": {"domain": [-8.46, 40.91], "nice": false, "zero": false}, "axis": {"values": [0, 20], "labelFontSize": 17, "labelPadding": 15.5, "title": null}}
      },
      "layer": [
        {"data": {"name": "c4barea"}, "mark": {"type": "area", "color": "#c9c9c9", "stroke": "#6a9fd0", "strokeWidth": 1, "interpolate": "monotone", "opacity": 1}, "encoding": {"y2": {"datum": 20.7}}},
        {"data": {"name": "c4bred"}, "mark": {"type": "rule", "color": "#ff0a0a", "strokeWidth": 4.5}, "encoding": {"x2": {"field": "x2"}, "y2": {"field": "y2"}}},
        {"data": {"name": "c4bredhead"}, "mark": {"type": "point", "shape": "triangle-right", "filled": true, "color": "#ff0a0a", "size": 196, "opacity": 1}},
        {"data": {"name": "c4bpurple"}, "mark": {"type": "rule", "color": "#6c6cd8", "strokeWidth": 6}, "encoding": {"x2": {"field": "x2"}, "y2": {"field": "y2"}}},
        {"data": {"name": "c4bheaddown"}, "mark": {"type": "point", "shape": "triangle-down", "filled": true, "color": "#6c6cd8", "size": 144, "opacity": 1}},
        {"data": {"name": "c4bheadup"}, "mark": {"type": "point", "shape": "triangle-up", "filled": true, "color": "#6c6cd8", "size": 144, "opacity": 1}},
        {"data": {"name": "c4bdash"}, "mark": {"type": "rule", "color": "#222222", "strokeDash": [3, 2], "strokeWidth": 1.2}, "encoding": {"x2": {"field": "x2"}, "y2": {"field": "y2"}}},
        {"data": {"name": "c4baxes"}, "mark": {"type": "rule", "color": "#000000", "strokeWidth": 2.5}, "encoding": {"x2": {"field": "x2"}, "y2": {"field": "y2"}}},
        {"data": {"name": "c4barrowR"}, "mark": {"type": "point", "shape": "triangle-right", "filled": true, "color": "#000000", "size": 144, "opacity": 1}},
        {"data": {"name": "c4barrowU"}, "mark": {"type": "point", "shape": "triangle-up", "filled": true, "color": "#000000", "size": 144, "opacity": 1}},
        {"data": {"name": "c4btextp"}, "mark": {"type": "text", "fontSize": 20, "fontWeight": "bold", "color": "#6f6fd2"}, "encoding": {"text": {"field": "label", "type": "nominal"}}},
        {"data": {"name": "c4btextr"}, "mark": {"type": "text", "fontSize": 20, "fontWeight": "bold", "color": "#ee1c25"}, "encoding": {"text": {"field": "label", "type": "nominal"}}},
        {"data": {"name": "c4bunit"}, "mark": {"type": "text", "fontSize": 16, "color": "#1a1a1a"}, "encoding": {"text": {"field": "label", "type": "nominal"}}}
      ]
    }
  ], "spacing": 0, "bounds": "flush"},
  {"hconcat": [
    {"width": 187, "height": 58, "data": {"values": [{}]}, "mark": {"type": "text", "text": ""}},
    {"width": 608, "height": 58, "view": {"fill": "#2f5ea8", "stroke": null}, "data": {"values": [{"t": "急峻な大電力を入出力可能"}]}, "mark": {"type": "text", "color": "#ffffff", "fontSize": 34, "dy": 2.7}, "encoding": {"text": {"field": "t", "type": "nominal"}}},
    {"width": 310, "height": 58, "data": {"values": [{}]}, "mark": {"type": "text", "text": ""}},
    {"width": 606, "height": 58, "view": {"fill": "#2f5ea8", "stroke": null}, "data": {"values": [{"t": "送電電力の安定化"}]}, "mark": {"type": "text", "color": "#ffffff", "fontSize": 34, "dy": 2.7}, "encoding": {"text": {"field": "t", "type": "nominal"}}},
    {"width": 159, "height": 58, "data": {"values": [{}]}, "mark": {"type": "text", "text": ""}},
    {"width": 50, "height": 58, "data": {"values": [{"t": "53"}]}, "mark": {"type": "text", "font": "Liberation Serif", "fontWeight": "bold", "fontSize": 26, "color": "#111111"}, "encoding": {"text": {"field": "t", "type": "nominal"}}}
  ], "spacing": 0, "bounds": "flush"},
  {"width": 1920, "height": 2, "view": {"fill": "#4a4a4a", "stroke": null}, "data": {"values": [{}]}, "mark": {"type": "text", "text": "", "fontSize": 0.5}},
  {"hconcat": [
    {"width": 1570, "height": 23, "view": {"fill": "#e1280e", "stroke": null}, "data": {"values": [{}]}, "mark": {"type": "text", "text": ""}},
    {"width": 344, "height": 23, "view": {"fill": "#e1280e", "stroke": null}, "data": {"values": [{"t": "JTEKT\u2003CORPORATION"}]}, "mark": {"type": "text", "font": "Liberation Serif", "fontWeight": "bold", "fontSize": 18, "color": "#ffffff", "dy": 1.5}, "encoding": {"text": {"field": "t", "type": "nominal"}}},
    {"width": 6, "height": 23, "view": {"fill": "#e1280e", "stroke": null}, "data": {"values": [{}]}, "mark": {"type": "text", "text": ""}}
  ], "spacing": 0, "bounds": "flush"}
]
}
